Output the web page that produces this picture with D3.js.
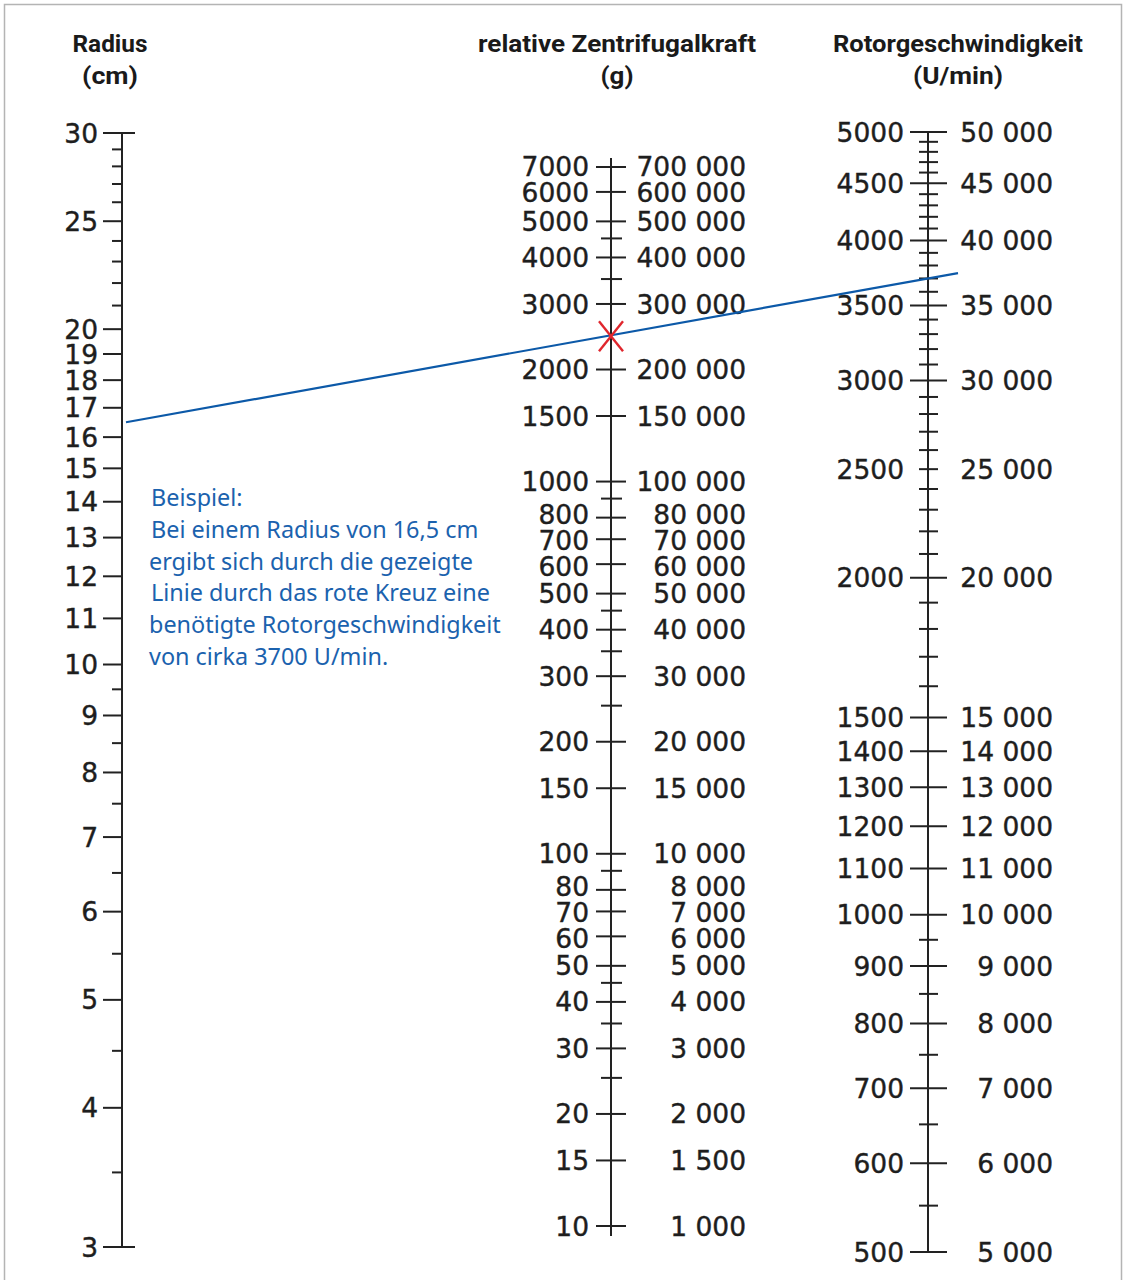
<!DOCTYPE html>
<html>
<head>
<meta charset="utf-8">
<script src="https://cdn.jsdelivr.net/npm/d3@7"></script>
<style>
  html, body { margin: 0; padding: 0; background: #fff; }
  svg { display: block; }
  .num { font-family: "DejaVu Sans", sans-serif; font-size: 26.5px; fill: #1e1e1e; stroke: #1e1e1e; stroke-width: 0.4px; }
  .title { font-family: "Liberation Sans Narrow", "Roboto", "Liberation Sans", sans-serif; font-weight: bold; font-size: 24px; fill: #1a1a1a; }
  .note { font-family: "Noto Sans", "Open Sans", sans-serif; font-size: 23.4px; fill: #1b62ae; }
</style>
</head>
<body>
<svg id="chart" width="1125" height="1280"></svg>
<script>
// Radius (cm)
const radiusMajor = [30, 25, 20, 19, 18, 17, 16, 15, 14, 13, 12, 11, 10, 9, 8, 7, 6, 5, 4, 3];
const radiusMinor = [29, 28, 27, 26, 24, 23, 22, 21, 9.5, 8.5, 7.5, 6.5, 5.5, 4.5, 3.5];

// relative Zentrifugalkraft (g)
const rcfMajor = [7000, 6000, 5000, 4000, 3000, 2000, 1500, 1000, 800, 700, 600, 500, 400, 300, 200, 150, 100, 80, 70, 60, 50, 40, 30, 20, 15, 10];
const rcfLeftLabels = ["7000", "6000", "5000", "4000", "3000", "2000", "1500", "1000", "800", "700", "600", "500", "400", "300", "200", "150", "100", "80", "70", "60", "50", "40", "30", "20", "15", "10"];
const rcfRightLabels = ["700 000", "600 000", "500 000", "400 000", "300 000", "200 000", "150 000", "100 000", "80 000", "70 000", "60 000", "50 000", "40 000", "30 000", "20 000", "15 000", "10 000", "8 000", "7 000", "6 000", "5 000", "4 000", "3 000", "2 000", "1 500", "1 000"];
const rcfMinor = [4500, 3500, 900, 450, 350, 250, 90, 45, 35, 25];

// Rotorgeschwindigkeit (U/min)
const rpmMajor = [5000, 4500, 4000, 3500, 3000, 2500, 2000, 1500, 1400, 1300, 1200, 1100, 1000, 900, 800, 700, 600, 500];
const rpmLeftLabels = ["5000", "4500", "4000", "3500", "3000", "2500", "2000", "1500", "1400", "1300", "1200", "1100", "1000", "900", "800", "700", "600", "500"];
const rpmRightLabels = ["50 000", "45 000", "40 000", "35 000", "30 000", "25 000", "20 000", "15 000", "14 000", "13 000", "12 000", "11 000", "10 000", "9 000", "8 000", "7 000", "6 000", "5 000"];
const rpmMinor = [4900, 4800, 4700, 4600, 4400, 4300, 4200, 4100, 3900, 3800, 3700, 3600, 3400, 3300, 3200, 3100,
                  2900, 2800, 2700, 2600, 2400, 2300, 2200, 2100, 1900, 1800, 1700, 1600, 950, 850, 750, 650, 550];

// Beispiel
const exampleRadius = 16.5;
const exampleRpm = 3700;
const noteLines = ["Beispiel:", "Bei einem Radius von 16,5 cm", "ergibt sich durch die gezeigte", "Linie durch das rote Kreuz eine", "benötigte Rotorgeschwindigkeit", "von cirka 3700 U/min."];

const svg = d3.select("#chart");
const INK = "#222";

// Rahmen
svg.append("path")
   .attr("d", "M4.5,1280 V4.5 H1121.5 V1280")
   .attr("fill", "none").attr("stroke", "#b4b4b4").attr("stroke-width", 1.5);

const yR = d3.scaleLog().domain([30, 3]).range([133, 1247]);
const yG = d3.scaleLog().domain([7000, 10]).range([167, 1226]);
const yN = d3.scaleLog().domain([5000, 500]).range([132, 1252]);

const xR = 122, xG = 611, xN = 928;

// Titel
const titles = [
  { x: 110, lines: ["Radius", "(cm)"], w: [75, 56] },
  { x: 617, lines: ["relative Zentrifugalkraft", "(g)"], w: [278, 33] },
  { x: 958, lines: ["Rotorgeschwindigkeit", "(U/min)"], w: [250, 90] }
];
titles.forEach(t => {
  t.lines.forEach((txt, i) => {
    svg.append("text").attr("class", "title")
       .attr("x", t.x).attr("y", i === 0 ? 52 : 84)
       .attr("text-anchor", "middle")
       .attr("textLength", t.w[i]).attr("lengthAdjust", "spacingAndGlyphs")
       .text(txt);
  });
});

function vline(x, y1, y2) {
  svg.append("line").attr("x1", x).attr("x2", x).attr("y1", y1).attr("y2", y2)
     .attr("stroke", INK).attr("stroke-width", 2);
}

function ticks(g, data, scale, x1, x2, w) {
  g.selectAll(null).data(data).enter().append("line")
   .attr("x1", x1).attr("x2", x2)
   .attr("y1", d => scale(d)).attr("y2", d => scale(d))
   .attr("stroke", INK).attr("stroke-width", w);
}

// Beschriftungen leicht auseinanderschieben, wenn sie zu eng stehen
function spread(ys, minGap) {
  const out = ys.slice();
  for (let k = 0; k < 60; k++) {
    for (let i = 1; i < out.length; i++) {
      const gap = out[i] - out[i - 1];
      if (gap < minGap) {
        const push = (minGap - gap) / 2;
        out[i - 1] -= push;
        out[i] += push;
      }
    }
  }
  return out;
}

function labels(g, data, texts, scale, x, anchor, minGap) {
  const ys = spread(data.map(d => scale(d)), minGap);
  g.selectAll(null).data(data).enter().append("text")
   .attr("class", "num")
   .attr("x", x).attr("y", (d, i) => ys[i]).attr("dy", "0.36em")
   .attr("text-anchor", anchor)
   .text((d, i) => texts[i]);
}

// --- Radius ---
const gR = svg.append("g");
vline(xR, yR(30), yR(3));
ticks(gR, radiusMajor, yR, 103, xR, 2);
ticks(gR, [30, 3], yR, xR, 135, 2);
ticks(gR, radiusMinor, yR, 112, xR, 2);
labels(gR, radiusMajor, radiusMajor.map(String), yR, 98, "end", 25);

// --- RCF ---
const gG = svg.append("g");
vline(xG, yG(7000) - 9, yG(10) + 10);
ticks(gG, rcfMajor, yG, 596, 626, 2);
ticks(gG, rcfMinor, yG, 601, 622, 2);
labels(gG, rcfMajor, rcfLeftLabels, yG, 589, "end", 26);
labels(gG, rcfMajor, rcfRightLabels, yG, 746, "end", 26);

// --- RPM ---
const gN = svg.append("g");
vline(xN, yN(5000), yN(500));
ticks(gN, rpmMajor.filter(d => d !== 2500), yN, 910, 947, 2);
ticks(gN, rpmMinor.concat([2500]), yN, 919, 938, 2);
labels(gN, rpmMajor, rpmLeftLabels, yN, 904, "end", 26);
labels(gN, rpmMajor, rpmRightLabels, yN, 1053, "end", 26);

// --- Beispiel-Linie ---
const p1 = [xR + 4, yR(exampleRadius)];
const p2 = [xN, yN(exampleRpm)];
const slope = (p2[1] - p1[1]) / (p2[0] - p1[0]);
const xEnd = 958;
svg.append("line")
   .attr("x1", p1[0]).attr("y1", p1[1])
   .attr("x2", xEnd).attr("y2", p1[1] + slope * (xEnd - p1[0]))
   .attr("stroke", "#0c59a8").attr("stroke-width", 2.2);

const cy = p1[1] + slope * (xG - p1[0]);
const cross = svg.append("g").attr("transform", `translate(${xG},${cy + 1})`);
cross.append("line").attr("x1", -12).attr("y1", -15).attr("x2", 12).attr("y2", 15);
cross.append("line").attr("x1", 12).attr("y1", -15).attr("x2", -12).attr("y2", 15);
cross.selectAll("line").attr("stroke", "#e0262d").attr("stroke-width", 2.4);

// --- Hinweistext ---
svg.append("g").selectAll("text").data(noteLines).enter().append("text")
   .attr("class", "note")
   .attr("x", (d, i) => i === 0 || i === 1 || i === 3 ? 151 : 149)
   .attr("y", (d, i) => 506 + i * 31.8)
   .text(d => d);
</script>
</body>
</html>
